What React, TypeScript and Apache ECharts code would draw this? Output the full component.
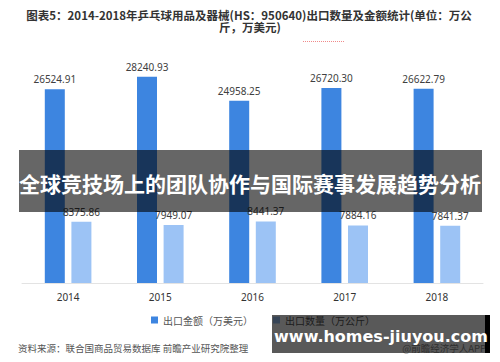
import React, { useEffect, useRef } from "react";
import * as echarts from "echarts";

const years = ["2014", "2015", "2016", "2017", "2018"];
const exportValue = [26524.91, 28240.93, 24958.25, 26720.3, 26622.79];
const exportQuantity = [8375.86, 7949.07, 8441.37, 7884.16, 7841.37];
const seriesNames = ["出口金额（万美元）", "出口数量（万公斤）"];
const titleLines = [
  "图表5：2014-2018年乒乓球用品及器械(HS：950640)出口数量及金额统计(单位：万公",
  "斤，万美元)",
];
const sourceText = "资料来源：联合国商品贸易数据库 前瞻产业研究院整理";
const appText = "@前瞻经济学人APP";
const bannerText = "全球竞技场上的团队协作与国际赛事发展趋势分析";
const siteText = "www.homes-jiuyou.com";

const CJK = '"Noto Sans CJK SC", "Noto Sans", sans-serif';
const NUM = '"Noto Sans", "Noto Sans CJK SC", sans-serif';

export default function App() {
  const ref = useRef<HTMLDivElement>(null);
  useEffect(() => {
    if (!ref.current) return;
    const chart = echarts.init(ref.current, undefined, { renderer: "svg" });
    const label = {
      show: true,
      position: "top" as const,
      distance: 5,
      fontSize: 10,
      color: "#404040",
      fontFamily: NUM,
      formatter: (p: any) => Number(p.value).toFixed(2),
    };
    chart.setOption({
      animation: false,
      backgroundColor: "#ffffff",
      textStyle: { fontFamily: CJK },
      grid: { left: 22, right: 17, top: 64, bottom: 79 },
      legend: {
        left: 146,
        top: 310,
        itemWidth: 7,
        itemHeight: 7,
        itemGap: 20,
        icon: "rect",
        textStyle: { fontSize: 10, color: "#555", fontFamily: CJK },
        data: seriesNames,
      },
      xAxis: {
        type: "category",
        data: years,
        axisLine: { lineStyle: { color: "#e3e3e3" } },
        axisTick: { show: false },
        axisLabel: { fontSize: 10, color: "#333", margin: 9, fontFamily: NUM },
      },
      yAxis: {
        type: "value",
        min: 0,
        max: 30000,
        show: false,
        splitLine: { show: false },
      },
      series: [
        {
          name: seriesNames[0],
          type: "bar",
          data: exportValue,
          barWidth: 20,
          barGap: "33%",
          itemStyle: { color: "#3d85e0" },
          label,
        },
        {
          name: seriesNames[1],
          type: "bar",
          data: exportQuantity,
          barWidth: 20,
          itemStyle: { color: "#9cc3f5" },
          label,
        },
      ],
      graphic: [
        {
          type: "text",
          x: 249,
          y: 14.5,
          style: {
            text: titleLines[0],
            align: "center",
            verticalAlign: "middle",
            font: `bold 11.5px ${CJK}`,
            fill: "#333",
          },
        },
        {
          type: "text",
          x: 250,
          y: 26.5,
          style: {
            text: titleLines[1],
            align: "center",
            verticalAlign: "middle",
            font: `bold 11.5px ${CJK}`,
            fill: "#333",
          },
        },
        {
          type: "line",
          shape: { x1: 303, y1: 41.5, x2: 345, y2: 41.5 },
          style: { stroke: "#f08a8a", lineWidth: 1, lineDash: [1, 1] },
        },
        {
          type: "text",
          x: 18,
          y: 348,
          style: {
            text: sourceText,
            verticalAlign: "middle",
            font: `9.5px ${CJK}`,
            fill: "#555",
          },
        },
        {
          type: "text",
          x: 486,
          y: 348,
          style: {
            text: appText,
            align: "right",
            verticalAlign: "middle",
            font: `9.5px ${CJK}`,
            fill: "#888",
          },
        },
        {
          type: "rect",
          z: 100,
          shape: { x: 19, y: 150, width: 463, height: 62 },
          style: { fill: "rgba(0,0,0,0.6)" },
        },
        {
          type: "text",
          z: 101,
          x: 250,
          y: 183,
          style: {
            text: bannerText,
            align: "center",
            verticalAlign: "middle",
            font: `bold 21px ${CJK}`,
            fill: "#ffffff",
          },
        },
        {
          type: "rect",
          z: 100,
          shape: { x: 272, y: 315, width: 213, height: 38 },
          style: { fill: "rgba(0,0,0,0.65)" },
        },
        {
          type: "rect",
          z: 100,
          shape: { x: 485, y: 315, width: 5, height: 38 },
          style: { fill: "#000" },
        },
        {
          type: "text",
          z: 101,
          x: 381,
          y: 336,
          style: {
            text: siteText,
            align: "center",
            verticalAlign: "middle",
            font: `bold 16px "DejaVu Sans", sans-serif`,
            fill: "#ffffff",
          },
        },
      ],
    });
    return () => chart.dispose();
  }, []);
  return (
    <div
      ref={ref}
      style={{ position: "absolute", left: 0, top: 0, width: 500, height: 362 }}
    />
  );
}
